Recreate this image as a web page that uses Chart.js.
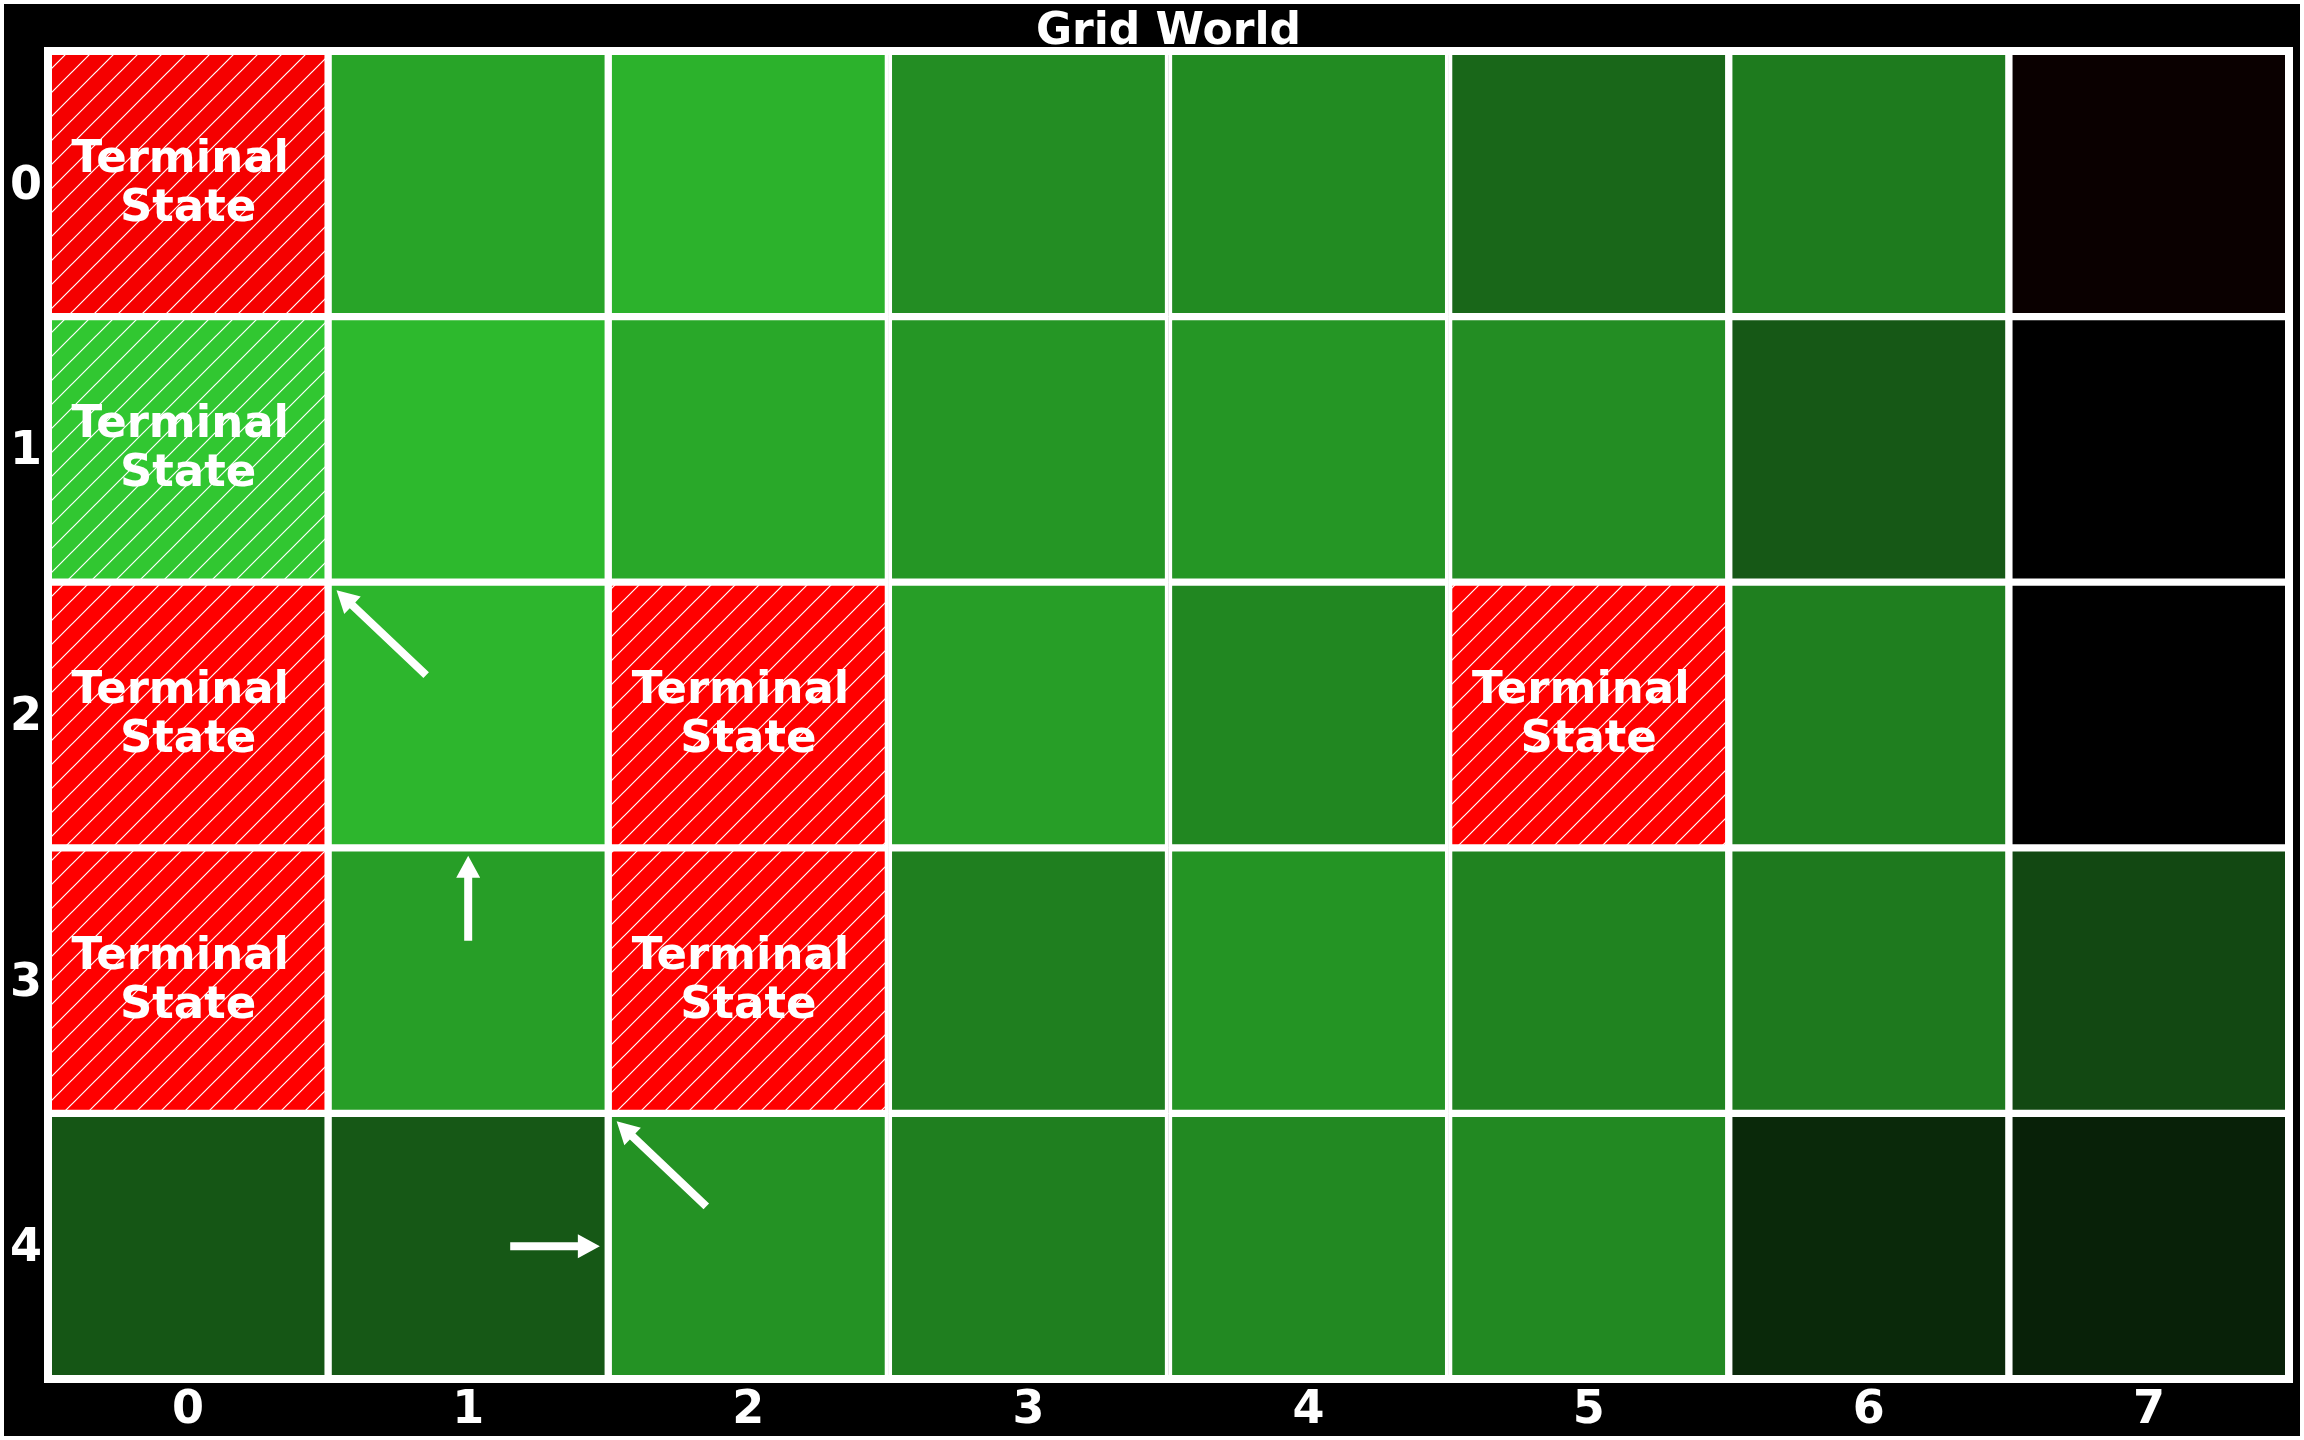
<!DOCTYPE html>
<html>
<head>
<meta charset="utf-8">
<script src="https://cdn.jsdelivr.net/npm/chart.js@4/dist/chart.umd.min.js"></script>
<style>
  html, body { margin: 0; padding: 0; background: #000; }
  #wrap { width: 2304px; height: 1440px; }
</style>
</head>
<body>
<div id="wrap"><canvas id="c" width="2304" height="1440"></canvas></div>
<script>
// ---------- data ----------
const chartTitle = 'Grid World';
const colLabels = ['0', '1', '2', '3', '4', '5', '6', '7'];
const rowLabels = ['0', '1', '2', '3', '4'];
// state values per row (negative = red, positive = green intensity)
const valuesRow0 = [-0.96, 0.80, 0.87, 0.69, 0.68, 0.50, 0.60, -0.04];
const valuesRow1 = [0.97, 0.90, 0.82, 0.73, 0.73, 0.69, 0.43, 0.00];
const valuesRow2 = [-1.00, 0.89, -1.00, 0.77, 0.66, -1.00, 0.62, 0.00];
const valuesRow3 = [-1.00, 0.77, -1.00, 0.62, 0.72, 0.64, 0.59, 0.35];
const valuesRow4 = [0.42, 0.43, 0.71, 0.62, 0.67, 0.67, 0.20, 0.16];
const gridValues = [valuesRow0, valuesRow1, valuesRow2, valuesRow3, valuesRow4];
// terminal states [row, col]
const terminalCells = [[0, 0], [1, 0], [2, 0], [3, 0], [2, 2], [3, 2], [2, 5]];
const terminalText = ['Terminal ', 'State'];
// policy arrows: cell and direction (dCol, dRow)
const arrowRows = [2, 3, 4, 4];
const arrowCols = [1, 1, 1, 2];
const arrowDCol = [-1, 0, 1, -1];
const arrowDRow = [-1, -1, 0, -1];

// ---------- helpers ----------
const FONT = "'DejaVu Sans', sans-serif";
function valueColor(v) {
  if (v < 0) return 'rgb(' + Math.round(255 * -v) + ',0,0)';
  return 'rgb(' + Math.round(50 * v) + ',' + Math.round(205 * v) + ',' + Math.round(50 * v) + ')';
}
function isTerminal(r, c) {
  return terminalCells.some(t => t[0] === r && t[1] === c);
}
const mainCtx = document.getElementById('c').getContext('2d');
function hatchPattern(color) {
  const s = 24;
  const tile = document.createElement('canvas');
  tile.width = s; tile.height = s;
  const t = tile.getContext('2d');
  t.fillStyle = color;
  t.fillRect(0, 0, s, s);
  t.strokeStyle = '#ffffff';
  t.lineWidth = 1.2;
  t.beginPath();
  t.moveTo(-2, s + 2); t.lineTo(s + 2, -2);
  t.moveTo(-2, 2); t.lineTo(2, -2);
  t.moveTo(s - 2, s + 2); t.lineTo(s + 2, s - 2);
  t.stroke();
  return mainCtx.createPattern(tile, 'repeat');
}
function cellFill(r, c) {
  const col = valueColor(gridValues[r][c]);
  return isTerminal(r, c) ? hatchPattern(col) : col;
}

const datasets = rowLabels.map((lab, r) => ({
  label: 'Row ' + lab,
  data: colLabels.map(() => 1),
  backgroundColor: colLabels.map((_, c) => cellFill(r, c)),
  borderColor: '#ffffff',
  borderWidth: 4,
  borderSkipped: false,
  barPercentage: 1,
  categoryPercentage: 1,
  stack: 'grid'
}));

// ---------- plugins ----------
const backgroundPlugin = {
  id: 'bgFrame',
  beforeDraw(chart) {
    const ctx = chart.ctx;
    ctx.save();
    ctx.fillStyle = '#ffffff';
    ctx.fillRect(0, 0, chart.width, chart.height);
    ctx.fillStyle = '#000000';
    ctx.fillRect(4, 4, chart.width - 8, chart.height - 8);
    ctx.restore();
  }
};

const overlayPlugin = {
  id: 'overlay',
  afterDatasetsDraw(chart) {
    const ctx = chart.ctx;
    const xs = chart.scales.x, ys = chart.scales.y;
    const a = chart.chartArea;
    ctx.save();
    // outer frame
    ctx.strokeStyle = '#ffffff';
    ctx.lineWidth = 8;
    ctx.strokeRect(a.left, a.top, a.right - a.left, a.bottom - a.top);

    // terminal labels
    ctx.fillStyle = '#ffffff';
    ctx.font = 'bold 45px ' + FONT;
    ctx.textAlign = 'center';
    ctx.textBaseline = 'alphabetic';
    terminalCells.forEach(([r, c]) => {
      const cx = xs.getPixelForValue(c);
      const cy = ys.getPixelForValue(r + 0.5);
      ctx.fillText(terminalText[0], cx, cy - 12);
      ctx.fillText(terminalText[1], cx, cy + 37);
    });

    // policy arrows
    const shaft = 8, headW = 24, headL = 22;
    for (let i = 0; i < arrowRows.length; i++) {
      const r = arrowRows[i], c = arrowCols[i];
      const dc = arrowDCol[i], dr = arrowDRow[i];
      const x0 = xs.getPixelForValue(c + 0.15 * dc);
      const y0 = ys.getPixelForValue(r + 0.5 + 0.15 * dr);
      const x1 = xs.getPixelForValue(c + 0.47 * dc);
      const y1 = ys.getPixelForValue(r + 0.5 + 0.47 * dr);
      const len = Math.hypot(x1 - x0, y1 - y0);
      const ang = Math.atan2(y1 - y0, x1 - x0);
      ctx.save();
      ctx.translate(x0, y0);
      ctx.rotate(ang);
      ctx.beginPath();
      ctx.moveTo(0, -shaft / 2);
      ctx.lineTo(len - headL, -shaft / 2);
      ctx.lineTo(len - headL, -headW / 2);
      ctx.lineTo(len, 0);
      ctx.lineTo(len - headL, headW / 2);
      ctx.lineTo(len - headL, shaft / 2);
      ctx.lineTo(0, shaft / 2);
      ctx.closePath();
      ctx.fillStyle = '#ffffff';
      ctx.fill();
      ctx.restore();
    }
    ctx.restore();
  }
};

// ---------- chart ----------
new Chart(mainCtx, {
  type: 'bar',
  data: { labels: colLabels, datasets: datasets },
  options: {
    responsive: false,
    animation: false,
    devicePixelRatio: 1,
    events: [],
    layout: { padding: { left: 0, right: 15, top: 0, bottom: 0 } },
    plugins: {
      legend: { display: false },
      tooltip: { enabled: false },
      title: {
        display: true,
        fullSize: false,
        text: chartTitle,
        color: '#ffffff',
        font: { family: FONT, size: 44, weight: 'bold', lineHeight: 1 },
        padding: { top: 11, bottom: -4 }
      }
    },
    scales: {
      x: {
        type: 'category',
        stacked: true,
        offset: true,
        grid: { display: false, drawTicks: false },
        border: { display: false },
        ticks: {
          color: '#ffffff',
          font: { family: FONT, size: 46, weight: 'bold' },
          padding: 4,
          maxRotation: 0,
          autoSkip: false
        },
        afterFit(scale) { scale.height = 61; }
      },
      y: {
        type: 'linear',
        stacked: true,
        reverse: true,
        min: 0,
        max: rowLabels.length,
        grid: { display: false, drawTicks: false },
        border: { display: false },
        afterBuildTicks(scale) {
          scale.ticks = rowLabels.map((_, i) => ({ value: i + 0.5 }));
        },
        ticks: {
          color: '#ffffff',
          font: { family: FONT, size: 46, weight: 'bold' },
          padding: 6,
          labelOffset: 3,
          autoSkip: false,
          callback(value, index) { return rowLabels[index]; }
        },
        afterFit(scale) { scale.width = 48; }
      }
    }
  },
  plugins: [backgroundPlugin, overlayPlugin]
});
</script>
</body>
</html>
